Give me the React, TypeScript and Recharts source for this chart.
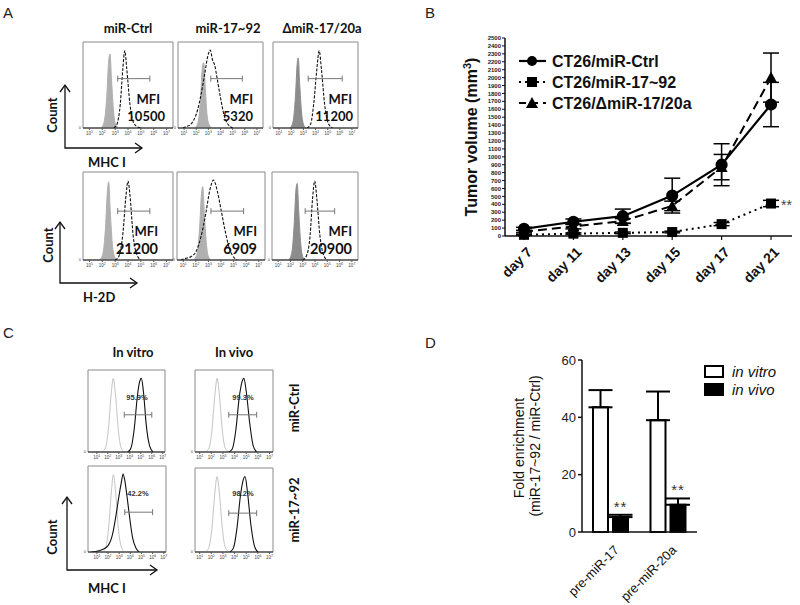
import React from 'react';
import {
  ComposedChart, LineChart, BarChart, Line, Area, Bar, XAxis, YAxis,
  ReferenceArea, ErrorBar, LabelList,
} from 'recharts';

type Pt = [number, number];

// ---------- Panel A: flow histograms, x = log10 fluorescence ----------
const logTicks = [1, 2, 3, 4, 5, 6, 7];
const aColumns = ['miR-Ctrl', 'miR-17~92', 'ΔmiR-17/20a'];
const aMfiMHC = ['10500', '5320', '11200'];
const aMfiH2D = ['21200', '6909', '20900'];

const aIsoMHC: Pt[][] = [
  [[1.9, 0], [2.15, 0.08], [2.35, 0.4], [2.5, 0.85], [2.6, 0.93], [2.72, 0.6], [2.88, 0.2], [3.05, 0.04], [3.25, 0]],
  [[1.9, 0], [2.15, 0.07], [2.35, 0.35], [2.5, 0.75], [2.62, 0.82], [2.75, 0.5], [2.9, 0.15], [3.1, 0.03], [3.3, 0]],
  [[1.9, 0], [2.15, 0.08], [2.35, 0.4], [2.5, 0.82], [2.58, 0.88], [2.7, 0.55], [2.85, 0.2], [3.0, 0.05], [3.2, 0]],
];
const aSmpMHC: Pt[][] = [
  [[2.9, 0], [3.15, 0.05], [3.4, 0.3], [3.6, 0.75], [3.75, 0.97], [3.9, 0.75], [4.15, 0.3], [4.45, 0.06], [4.8, 0.01], [5.1, 0]],
  [[0.9, 0], [1.2, 0.02], [1.5, 0.04], [1.8, 0.1], [2.1, 0.22], [2.4, 0.42], [2.7, 0.68], [2.95, 0.9], [3.15, 0.98], [3.35, 0.85], [3.5, 0.8], [3.75, 0.6], [4.0, 0.38], [4.3, 0.16], [4.6, 0.05], [5.0, 0]],
  [[3.3, 0], [3.6, 0.05], [3.85, 0.3], [4.1, 0.72], [4.3, 0.97], [4.5, 0.72], [4.75, 0.3], [5.05, 0.06], [5.4, 0]],
];
const aIsoH2D: Pt[][] = [
  [[1.8, 0], [2.05, 0.08], [2.25, 0.4], [2.4, 0.85], [2.5, 0.96], [2.62, 0.6], [2.78, 0.2], [2.95, 0.04], [3.15, 0]],
  [[1.8, 0], [2.1, 0.08], [2.3, 0.4], [2.45, 0.82], [2.55, 0.9], [2.68, 0.55], [2.85, 0.18], [3.0, 0.04], [3.2, 0]],
  [[1.85, 0], [2.1, 0.08], [2.3, 0.42], [2.45, 0.86], [2.55, 0.94], [2.68, 0.58], [2.84, 0.2], [3.0, 0.04], [3.2, 0]],
];
const aSmpH2D: Pt[][] = [
  [[3.0, 0], [3.3, 0.05], [3.6, 0.32], [3.85, 0.8], [4.0, 0.97], [4.15, 0.8], [4.4, 0.3], [4.7, 0.06], [5.0, 0]],
  [[0.8, 0], [1.2, 0.02], [1.6, 0.04], [2.0, 0.1], [2.4, 0.28], [2.8, 0.58], [3.1, 0.85], [3.4, 0.98], [3.7, 0.85], [4.0, 0.62], [4.3, 0.38], [4.6, 0.18], [4.9, 0.06], [5.3, 0]],
  [[3.0, 0], [3.3, 0.05], [3.6, 0.3], [3.8, 0.75], [3.98, 0.97], [4.15, 0.75], [4.4, 0.3], [4.7, 0.06], [5.0, 0]],
];
// gate: [from, to, height]
const aGateMHC = [[3.2, 5.7, 0.62], [3.2, 5.8, 0.62], [3.4, 6.2, 0.62]];
const aGateH2D = [[3.2, 5.7, 0.6], [3.2, 5.8, 0.6], [3.2, 5.6, 0.6]];

// ---------- Panel B: tumor growth ----------
const days = ['day 7', 'day 11', 'day 13', 'day 15', 'day 17', 'day 21'];
const ctrlVol = [90, 180, 250, 510, 900, 1660];
const ctrlErr = [20, 35, 90, 220, 265, 280];
const mirVol = [15, 30, 40, 50, 150, 410];
const mirErr = [5, 10, 10, 10, 20, 40];
const delVol = [55, 120, 190, 380, 870, 2000];
const delErr = [15, 30, 30, 60, 160, 310];
const volTicks = [0, 100, 200, 300, 400, 500, 600, 700, 800, 900, 1000, 1100, 1200, 1300, 1400, 1500, 1600, 1700, 1800, 1900, 2000, 2100, 2200, 2300, 2400, 2500];
const bSeries = ['CT26/miR-Ctrl', 'CT26/miR-17~92', 'CT26/ΔmiR-17/20a'];

// ---------- Panel C: in vitro / in vivo histograms ----------
const cColumns = ['In vitro', 'In vivo'];
const cRows = ['miR-Ctrl', 'miR-17~92'];
const cPercent = ['95.9%', '99.3%', '42.2%', '98.2%'];
const cIso: Pt[][] = [
  [[1.5, 0], [1.8, 0.06], [2.05, 0.3], [2.3, 0.75], [2.5, 0.97], [2.7, 0.75], [2.95, 0.3], [3.2, 0.06], [3.5, 0]],
  [[1.5, 0], [1.8, 0.05], [2.05, 0.28], [2.3, 0.74], [2.5, 0.97], [2.7, 0.74], [2.95, 0.28], [3.2, 0.05], [3.5, 0]],
  [[1.5, 0], [1.8, 0.06], [2.05, 0.3], [2.3, 0.76], [2.48, 0.97], [2.68, 0.75], [2.92, 0.3], [3.2, 0.06], [3.5, 0]],
  [[1.5, 0], [1.8, 0.06], [2.05, 0.3], [2.3, 0.75], [2.5, 0.97], [2.7, 0.75], [2.95, 0.3], [3.2, 0.06], [3.5, 0]],
];
const cSmp: Pt[][] = [
  [[3.8, 0], [4.1, 0.05], [4.4, 0.3], [4.7, 0.75], [4.9, 0.93], [5.05, 0.97], [5.25, 0.78], [5.5, 0.35], [5.8, 0.08], [6.1, 0]],
  [[3.5, 0], [3.8, 0.04], [4.1, 0.28], [4.4, 0.72], [4.65, 0.93], [4.8, 0.97], [5.0, 0.8], [5.3, 0.38], [5.6, 0.08], [5.9, 0]],
  [[0.5, 0], [1.0, 0.01], [1.5, 0.03], [2.0, 0.08], [2.4, 0.22], [2.7, 0.45], [3.0, 0.72], [3.2, 0.88], [3.35, 0.98], [3.5, 0.9], [3.7, 0.7], [3.95, 0.42], [4.2, 0.18], [4.5, 0.05], [4.8, 0]],
  [[3.6, 0], [3.9, 0.05], [4.2, 0.3], [4.5, 0.72], [4.75, 0.93], [4.9, 0.97], [5.1, 0.78], [5.4, 0.35], [5.7, 0.08], [6.0, 0]],
];
const cGate = [[3.5, 6.0, 0.49], [3.5, 5.9, 0.49], [3.5, 6.0, 0.5], [3.5, 5.9, 0.5]];

// ---------- Panel D: fold enrichment ----------
const dCats = ['pre-miR-17', 'pre-miR-20a'];
const dVitro = [43.5, 39];
const dVitroErr = [6, 10];
const dVivo = [5.2, 9.5];
const dVivoErr = [0.8, 2.2];
const dTicks = [0, 20, 40, 60];
const dSeries = ['in vitro', 'in vivo'];

const bData = days.map((day, i) => ({
  day, ctrl: ctrlVol[i], ctrlErr: ctrlErr[i], mir: mirVol[i], mirErr: mirErr[i], del: delVol[i], delErr: delErr[i],
}));
const dData = dCats.map((cat, i) => ({
  cat, vitro: dVitro[i], vitroErr: [0, dVitroErr[i]], vivo: dVivo[i], vivoErr: [0, dVivoErr[i]],
}));

const SANS = 'Liberation Sans, Arial, sans-serif';
const HUM = 'Lato, Open Sans, sans-serif';

const LogTick = ({ x, y, payload }: any) => (
  <text x={x} y={y + 4} textAnchor="middle" fontSize={4.5} fill="#444" fontFamily={SANS}>
    10<tspan dy={-2} fontSize={3.5}>{payload.value}</tspan>
  </text>
);

const gateCap = (p: any) => (
  <line key={`cap-${p.index}`} x1={p.cx} x2={p.cx} y1={p.cy - 3} y2={p.cy + 3} stroke="#777" strokeWidth={1} />
);

type HistProps = {
  x: number; y: number; w: number; h: number; domain: [number, number];
  iso: Pt[]; smp: Pt[]; gate: number[]; isoFill?: string; isoLine?: boolean; dash?: string;
};

function Hist({ x, y, w, h, domain, iso, smp, gate, isoFill, isoLine, dash }: HistProps) {
  const rows = (pts: Pt[]) => pts.map(([a, b]) => ({ v: a, n: b }));
  const gateRows = [{ v: gate[0], n: gate[2] }, { v: gate[1], n: gate[2] }];
  return (
    <div style={{ position: 'absolute', left: x - 10, top: y - 1 }}>
      <ComposedChart width={w + 12} height={h + 13} margin={{ top: 1, right: 2, bottom: 0, left: 2 }}>
        <XAxis type="number" dataKey="v" domain={domain} ticks={logTicks} interval={0} allowDataOverflow
          height={12} tickSize={2} tickMargin={1} tick={LogTick} axisLine={{ stroke: '#222' }} tickLine={{ stroke: '#555' }} />
        <YAxis type="number" dataKey="n" domain={[0, 1.08]} ticks={[0]} width={8} tickSize={0} tickMargin={2}
          axisLine={false} tickLine={false} tick={{ fontSize: 4, fill: '#444' }} allowDataOverflow />
        <ReferenceArea x1={domain[0]} x2={domain[1]} y1={0} y2={1.08} fill="none" stroke="#8a8a8a" ifOverflow="visible" />
        {isoLine ? (
          <Line data={rows(iso)} dataKey="n" type="monotone" stroke="#c4c4c4" strokeWidth={1} dot={false} isAnimationActive={false} />
        ) : (
          <Area data={rows(iso)} dataKey="n" type="monotone" stroke={isoFill} fill={isoFill} fillOpacity={1} isAnimationActive={false} />
        )}
        <Line data={rows(smp)} dataKey="n" type="monotone" stroke="#111" strokeWidth={1.1}
          strokeDasharray={dash} dot={false} isAnimationActive={false} />
        <Line data={gateRows} dataKey="n" stroke="#777" strokeWidth={1} dot={gateCap} isAnimationActive={false} />
      </ComposedChart>
    </div>
  );
}

const DayTick = ({ x, y, payload }: any) => (
  <text x={x + 9} y={y + 11} transform={`rotate(-45 ${x + 9} ${y + 11})`} textAnchor="end"
    fontSize={14} fontWeight="bold" fill="#111" fontFamily={SANS}>{payload.value}</text>
);

const PreTick = ({ x, y, payload }: any) => (
  <text x={x + 9} y={y + 11} transform={`rotate(-45 ${x + 9} ${y + 11})`} textAnchor="end"
    fontSize={13} fill="#111" fontFamily={SANS}>{payload.value}</text>
);

const squareDot = (p: any) => (
  <rect key={`sq-${p.index}`} x={p.cx - 5} y={p.cy - 5} width={10} height={10} fill="#000" />
);
const triDot = (p: any) => (
  <path key={`tr-${p.index}`} d={`M${p.cx},${p.cy - 6} L${p.cx + 6},${p.cy + 5} L${p.cx - 6},${p.cy + 5} Z`} fill="#000" />
);
const mirStars = (p: any) => (p.index === days.length - 1 ? (
  <text key="stars" x={p.x + 10} y={p.y + 6} fontSize={14} fill="#444" fontFamily={SANS}>**</text>
) : null);
const vivoStars = (p: any) => {
  const errPx = (dVivoErr[p.index] * p.height) / p.value;
  return (
    <text key={`st-${p.index}`} x={p.x + p.width / 2} y={p.y - errPx - 3} textAnchor="middle"
      fontSize={15} letterSpacing={1} fill="#333" fontFamily={SANS}>**</text>
  );
};

const aBoxes1 = [{ x: 83, w: 90 }, { x: 178, w: 85 }, { x: 273, w: 85 }];
const aBoxes2 = [{ x: 83, w: 90 }, { x: 177, w: 88 }, { x: 272, w: 86 }];
const aIsoColors = ['#b0b0b0', '#b0b0b0', '#8c8c8c'];

function Arrow({ x, y1, y2, x2 }: { x: number; y1: number; y2: number; x2: number }) {
  return (
    <g stroke="#111" strokeWidth={1.3} fill="none">
      <polyline points={`${x},${y1} ${x},${y2} ${x2},${y2}`} />
      <polyline points={`${x - 5},${y1 + 7} ${x},${y1} ${x + 5},${y1 + 7}`} />
      <polyline points={`${x2 - 7},${y2 - 5} ${x2},${y2} ${x2 - 7},${y2 + 5}`} />
    </g>
  );
}

export default function App() {
  return (
    <div style={{ position: 'absolute', left: 0, top: 0, width: 800, height: 605, background: '#fff', fontFamily: SANS }}>
      {/* Panel A */}
      {aBoxes1.map((b, i) => (
        <Hist key={`a1-${i}`} x={b.x} y={42} w={b.w} h={86} domain={[0.5, 7.5]} iso={aIsoMHC[i]} smp={aSmpMHC[i]}
          gate={aGateMHC[i]} isoFill={aIsoColors[i]} dash="3 1.5" />
      ))}
      {aBoxes2.map((b, i) => (
        <Hist key={`a2-${i}`} x={b.x} y={172} w={b.w} h={88} domain={[0.5, 7.5]} iso={aIsoH2D[i]} smp={aSmpH2D[i]}
          gate={aGateH2D[i]} isoFill={aIsoColors[i]} dash="3 1.5" />
      ))}

      {/* Panel B */}
      <div style={{ position: 'absolute', left: 400, top: 0 }}>
        <LineChart width={400} height={300} data={bData} margin={{ top: 38, right: 8, bottom: 14, left: 75 }}>
          <XAxis dataKey="day" height={50} padding={{ left: 19, right: 21 }} tickSize={4} tickMargin={2} interval={0}
            tick={DayTick} axisLine={{ stroke: '#111', strokeWidth: 1.5 }} tickLine={{ stroke: '#111', strokeWidth: 1.2 }} />
          <YAxis domain={[0, 2500]} ticks={volTicks} interval={0} width={30} tickSize={3} tickMargin={1}
            tick={{ fontSize: 6, fontWeight: 'bold', fill: '#222' }} axisLine={{ stroke: '#111', strokeWidth: 1.5 }}
            tickLine={{ stroke: '#111' }} />
          <Line dataKey="ctrl" stroke="#000" strokeWidth={2.2} dot={{ r: 5, fill: '#000', stroke: '#000' }} isAnimationActive={false}>
            <ErrorBar dataKey="ctrlErr" direction="y" width={8} stroke="#000" strokeWidth={1.5} />
          </Line>
          <Line dataKey="mir" stroke="#000" strokeWidth={2} strokeDasharray="2 4" dot={squareDot} isAnimationActive={false}>
            <ErrorBar dataKey="mirErr" direction="y" width={8} stroke="#000" strokeWidth={1.5} />
            <LabelList dataKey="mir" content={mirStars} />
          </Line>
          <Line dataKey="del" stroke="#000" strokeWidth={2} strokeDasharray="9 5" dot={triDot} isAnimationActive={false}>
            <ErrorBar dataKey="delErr" direction="y" width={8} stroke="#000" strokeWidth={1.5} />
          </Line>
        </LineChart>
      </div>

      {/* Panel C */}
      <Hist x={88} y={370} w={77} h={82} domain={[0.2, 7.2]} iso={cIso[0]} smp={cSmp[0]} gate={cGate[0]} isoLine />
      <Hist x={195} y={370} w={78} h={82} domain={[0.6, 7.3]} iso={cIso[1]} smp={cSmp[1]} gate={cGate[1]} isoLine />
      <Hist x={88} y={466} w={78} h={86} domain={[0.2, 7.2]} iso={cIso[2]} smp={cSmp[2]} gate={cGate[2]} isoLine />
      <Hist x={195} y={468} w={78} h={84} domain={[0.6, 7.3]} iso={cIso[3]} smp={cSmp[3]} gate={cGate[3]} isoLine />

      {/* Panel D */}
      <div style={{ position: 'absolute', left: 400, top: 300 }}>
        <BarChart width={400} height={305} data={dData} margin={{ top: 60, right: 103, bottom: 13, left: 142 }} barSize={15} barGap={5}>
          <XAxis dataKey="cat" height={60} tickLine={false} tickSize={6} tickMargin={2} tick={PreTick} interval={0}
            axisLine={{ stroke: '#111', strokeWidth: 1.5 }} />
          <YAxis domain={[0, 60]} ticks={dTicks} width={40} tickSize={4} tickMargin={2}
            tick={{ fontSize: 13, fill: '#222' }} axisLine={{ stroke: '#111', strokeWidth: 1.5 }} tickLine={{ stroke: '#111', strokeWidth: 1.5 }} />
          <Bar dataKey="vitro" fill="#fff" stroke="#000" strokeWidth={2} isAnimationActive={false}>
            <ErrorBar dataKey="vitroErr" direction="y" width={12} stroke="#000" strokeWidth={2} />
          </Bar>
          <Bar dataKey="vivo" fill="#000" stroke="#000" strokeWidth={2} isAnimationActive={false}>
            <ErrorBar dataKey="vivoErr" direction="y" width={12} stroke="#000" strokeWidth={2} />
            <LabelList dataKey="vivo" content={vivoStars} />
          </Bar>
        </BarChart>
      </div>

      {/* text overlay */}
      <svg width={800} height={605} style={{ position: 'absolute', left: 0, top: 0, pointerEvents: 'none' }}>
        <g fontFamily={SANS} fontSize={15} fill="#222">
          <text x={3} y={18}>A</text>
          <text x={425} y={18}>B</text>
          <text x={3} y={338}>C</text>
          <text x={425} y={348}>D</text>
        </g>

        {/* A */}
        <g fontFamily={HUM} fontWeight="bold" fill="#111" fontSize={13}>
          {aColumns.map((c, i) => (
            <text key={c} x={[128, 228, 322][i]} y={33} textAnchor="middle">{c}</text>
          ))}
          {aMfiMHC.map((m, i) => (
            <g key={`m1-${i}`} fontSize={13} textAnchor="end">
              <text x={[160, 253, 352][i]} y={104}>MFI</text>
              <text x={[165, 253, 353][i]} y={121}>{m}</text>
            </g>
          ))}
          {aMfiH2D.map((m, i) => (
            <g key={`m2-${i}`} fontSize={13} textAnchor="end">
              <text x={[158, 257, 352][i]} y={236}>MFI</text>
              <text x={[158, 257, 352][i]} y={254} fontSize={14.5}>{m}</text>
            </g>
          ))}
          <text x={57} y={115} transform="rotate(-90 57 115)" textAnchor="middle">Count</text>
          <text x={88} y={167}>MHC I</text>
          <text x={53} y={245} transform="rotate(-90 53 245)" textAnchor="middle">Count</text>
          <text x={83} y={302}>H-2D</text>
        </g>
        <Arrow x={65} y1={85} y2={148} x2={142} />
        <Arrow x={60} y1={222} y2={283} x2={137} />

        {/* B legend + axis label */}
        <g>
          <line x1={519} x2={546} y1={61} y2={61} stroke="#000" strokeWidth={2.2} />
          <circle cx={532} cy={61} r={5} fill="#000" />
          <line x1={519} x2={546} y1={82} y2={82} stroke="#000" strokeWidth={2} strokeDasharray="2 4" />
          <rect x={527} y={77} width={10} height={10} fill="#000" />
          <line x1={519} x2={546} y1={103} y2={103} stroke="#000" strokeWidth={2} strokeDasharray="7 5" />
          <path d="M532,97 L538,108 L526,108 Z" fill="#000" />
          <g fontSize={16} fontWeight="bold" fill="#111">
            {bSeries.map((s, i) => (
              <text key={s} x={552} y={[67, 88, 109][i]}>{s}</text>
            ))}
          </g>
          <text x={477} y={137} transform="rotate(-90 477 137)" textAnchor="middle" fontSize={16} fontWeight="bold" fill="#111">
            Tumor volume (mm<tspan dy={-6} fontSize={11}>3</tspan><tspan dy={6}>)</tspan>
          </text>
        </g>

        {/* C */}
        <g fontFamily={HUM} fontWeight="bold" fill="#111" fontSize={13}>
          {cColumns.map((c, i) => (
            <text key={c} x={[133, 234][i]} y={357} textAnchor="middle">{c}</text>
          ))}
          {cRows.map((r, i) => (
            <text key={r} x={299} y={[408, 510][i]} transform={`rotate(-90 299 ${[408, 510][i]})`} textAnchor="middle">{r}</text>
          ))}
          <text x={57} y={537} transform="rotate(-90 57 537)" textAnchor="middle">Count</text>
          <text x={88} y={593}>MHC I</text>
        </g>
        <g fontFamily={SANS} fontWeight="bold" fill="#333" fontSize={7.5} textAnchor="middle">
          {cPercent.map((p, i) => (
            <text key={p} x={[137, 243, 138, 243][i]} y={[400, 400, 496, 496][i]}>{p}</text>
          ))}
        </g>
        <Arrow x={67} y1={497} y2={570} x2={157} />

        {/* D legend + axis label */}
        <rect x={705} y={366} width={18} height={11} fill="#fff" stroke="#000" strokeWidth={2} />
        <rect x={705} y={384} width={18} height={11} fill="#000" stroke="#000" strokeWidth={2} />
        <g fontSize={15} fontStyle="italic" fill="#111">
          {dSeries.map((s, i) => (
            <text key={s} x={732} y={[377, 395][i]}>{s}</text>
          ))}
        </g>
        <g fontSize={14} fill="#111" textAnchor="middle">
          <text x={524} y={448} transform="rotate(-90 524 448)">Fold enrichment</text>
          <text x={540} y={446} transform="rotate(-90 540 446)">(miR-17~92 / miR-Ctrl)</text>
        </g>
      </svg>
    </div>
  );
}
